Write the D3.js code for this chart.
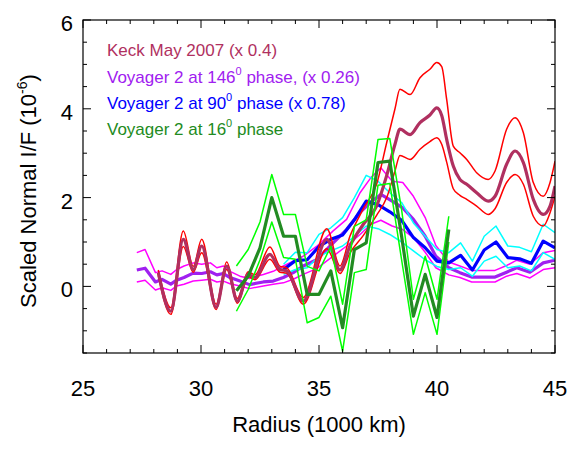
<!DOCTYPE html>
<html>
<head>
<meta charset="utf-8">
<script src="https://cdn.jsdelivr.net/npm/d3@7"></script>
<style>
  body { margin: 0; background: #fff; }
  text { font-family: "Liberation Sans", Arial, Helvetica, sans-serif; }
</style>
</head>
<body>
<script>
var w = 579;
var h = 453;
var svg;

var plotL = 83, plotR = 555, plotT = 20, plotB = 353;

// ---- data (radius in 1000 km, scaled normal I/F in 1e-6) ----
var keckR   = [28.19, 28.72, 29.25, 29.67, 30.03, 30.64, 31.09, 31.54, 32.0, 32.29, 32.92, 33.35, 33.63, 34.33, 35.33, 35.89, 36.31, 36.88, 37.44, 37.87, 38.22, 38.43, 38.86, 39.28, 39.7, 39.99, 40.2, 40.41, 40.69, 40.97, 41.26, 41.68, 42.17, 42.46, 42.95, 43.31, 43.66, 44.08, 44.5, 44.79, 45.0];
var keckMid = [0.31, -0.56, 1.06, 0.38, 0.91, -0.47, 0.46, -0.33, 0.27, 0.2, 0.72, 0.38, 0.35, -0.33, 1.06, 0.37, 0.91, 1.4, 1.81, 2.5, 3.2, 3.54, 3.42, 3.69, 3.86, 4.02, 3.85, 3.31, 2.71, 2.41, 2.3, 2.11, 1.92, 2.03, 2.75, 3.05, 2.79, 1.96, 1.62, 1.81, 2.26];
var keckHi  = [0.37, -0.48, 1.25, 0.45, 1.06, -0.4, 0.55, -0.27, 0.33, 0.26, 0.89, 0.45, 0.42, -0.25, 1.3, 0.46, 1.13, 1.75, 2.3, 3.24, 4.0, 4.44, 4.32, 4.7, 4.89, 5.04, 4.95, 4.21, 3.16, 3.01, 2.86, 2.56, 2.41, 2.6, 3.54, 3.8, 3.46, 2.34, 2.03, 2.34, 2.82];
var keckLo  = [0.25, -0.63, 0.9, 0.32, 0.76, -0.52, 0.38, -0.38, 0.22, 0.15, 0.61, 0.32, 0.3, -0.4, 0.85, 0.29, 0.75, 1.15, 1.6, 2.0, 2.6, 2.95, 2.86, 3.09, 3.26, 3.35, 3.2, 2.8, 2.2, 2.05, 1.96, 1.81, 1.62, 1.75, 2.34, 2.52, 2.3, 1.58, 1.36, 1.66, 2.03];

var v146R   = [27.28, 27.63, 28.07, 28.35, 28.72, 28.97, 29.28, 29.67, 30.03, 30.4, 30.67, 30.95, 31.23, 31.65, 32.05, 32.64, 33.06, 33.49, 33.91, 34.33, 34.9, 35.6, 36.17, 36.74, 37.2, 37.62, 38.1, 38.55, 39.0, 39.5, 39.95, 40.5, 40.97, 41.47, 42.46, 42.95, 43.38, 43.94, 44.5, 45.0];
var v146Mid = [0.37, 0.41, 0.1, 0.16, 0.05, 0.14, 0.2, 0.3, 0.29, 0.33, 0.26, 0.29, 0.2, 0.12, 0.04, 0.1, 0.12, 0.2, 0.31, 0.46, 0.6, 0.98, 1.28, 1.67, 1.9, 2.07, 1.92, 1.77, 1.51, 1.13, 0.68, 0.42, 0.31, 0.21, 0.21, 0.32, 0.42, 0.32, 0.53, 0.59];
var v146Hi  = [0.76, 0.83, 0.31, 0.35, 0.27, 0.38, 0.46, 0.53, 0.5, 0.53, 0.42, 0.46, 0.34, 0.23, 0.18, 0.27, 0.34, 0.46, 0.57, 0.68, 0.9, 1.25, 1.51, 2.11, 2.45, 2.67, 2.37, 2.34, 2.03, 1.55, 0.92, 0.55, 0.46, 0.36, 0.36, 0.47, 0.59, 0.5, 0.76, 0.81];
var v146Lo  = [0.1, 0.14, -0.08, -0.03, -0.09, 0.01, 0.05, 0.12, 0.14, 0.16, 0.1, 0.12, 0.06, 0.01, -0.05, 0.01, 0.05, 0.08, 0.16, 0.27, 0.4, 0.68, 0.91, 1.17, 1.4, 1.49, 1.36, 1.28, 1.1, 0.77, 0.42, 0.26, 0.2, 0.1, 0.1, 0.23, 0.29, 0.19, 0.38, 0.42];

var v90R    = [33.5, 34.0, 34.5, 35.0, 35.5, 36.0, 36.5, 37.0, 37.5, 38.0, 38.5, 39.0, 39.5, 40.0, 40.5, 41.0, 41.5, 42.0, 42.5, 43.0, 43.5, 44.0, 44.5, 45.0];
var v90Mid  = [0.38, 0.58, 0.6, 0.9, 1.06, 1.16, 1.5, 1.92, 1.84, 1.68, 1.49, 1.1, 0.87, 0.57, 0.53, 0.7, 0.37, 0.82, 1.0, 0.65, 0.62, 0.52, 1.02, 0.87];
var v90Hi   = [0.5, 0.77, 0.76, 1.17, 1.32, 1.55, 2.0, 2.5, 2.37, 2.11, 1.89, 1.43, 1.13, 0.83, 0.76, 0.98, 0.57, 1.13, 1.36, 0.91, 0.88, 0.78, 1.4, 1.21];
var v90Lo   = [0.27, 0.38, 0.42, 0.68, 0.8, 0.91, 1.13, 1.36, 1.3, 1.17, 1.0, 0.8, 0.6, 0.45, 0.38, 0.42, 0.23, 0.57, 0.68, 0.42, 0.46, 0.35, 0.76, 0.61];

var v16R    = [31.5, 32.0, 32.5, 33.0, 33.5, 34.0, 34.5, 35.0, 35.5, 36.0, 36.5, 37.0, 37.5, 38.0, 38.5, 39.0, 39.5, 40.0, 40.5];
var v16Mid  = [-0.1, 0.23, 0.87, 2.0, 1.13, 1.13, -0.18, -0.18, 0.35, -0.93, 0.83, 0.98, 2.79, 2.82, 1.13, -0.67, 0.27, -0.7, 1.28];
var v16Hi   = [0.46, 0.83, 1.45, 2.52, 1.62, 1.62, 0.45, 0.35, 0.9, -0.4, 1.35, 1.5, 3.31, 3.33, 1.73, -0.29, 0.68, -0.29, 1.58];
var v16Lo   = [-0.56, -0.07, 0.6, 1.45, 0.65, 0.61, -0.82, -0.7, -0.22, -1.46, 0.31, 0.38, 2.28, 2.32, 0.6, -1.08, -0.14, -1.08, 1.0];

var xTicks = [25, 30, 35, 40, 45];
var yTicks = [0, 2, 4, 6];

var x = d3.scaleLinear().domain([25, 45]).range([plotL, plotR]);
var y = d3.scaleLinear().domain([-1.5, 6]).range([plotB, plotT]);

drawContent();

function series(g, rs, vals, color, width, smooth) {
    var line = d3.line()
        .x(function (d, i) { return x(rs[i]); })
        .y(function (d) { return y(d); });
    if (smooth) line.curve(d3.curveMonotoneX);
    g.append("path")
        .attr("d", line(vals))
        .attr("fill", "none")
        .attr("stroke", color)
        .attr("stroke-width", width)
        .attr("stroke-linejoin", "round");
}

function drawContent() {
    svg = d3.select("body")
        .append("svg")
        .attr("width", w)
        .attr("height", h);

    svg.append("clipPath").attr("id", "plot")
        .append("rect")
        .attr("x", plotL).attr("y", plotT)
        .attr("width", plotR - plotL).attr("height", plotB - plotT);

    var g = svg.append("g").attr("clip-path", "url(#plot)");

    //---- lines ----
    series(g, v146R, v146Hi, "#ff00ff", 1.5);
    series(g, v146R, v146Lo, "#ff00ff", 1.5);
    series(g, v146R, v146Mid, "#a020f0", 3.2);

    series(g, v90R, v90Hi, "#00ffff", 1.5);
    series(g, v90R, v90Lo, "#00ffff", 1.5);
    series(g, v90R, v90Mid, "#0000ff", 3.2);

    series(g, keckR, keckHi, "#ff0000", 1.5, true);
    series(g, keckR, keckLo, "#ff0000", 1.5, true);
    series(g, keckR, keckMid, "#b03060", 3.2, true);

    series(g, v16R, v16Hi, "#00ff00", 1.5);
    series(g, v16R, v16Lo, "#00ff00", 1.5);
    series(g, v16R, v16Mid, "#228b22", 3.2);

    //---- frame and ticks ----
    svg.append("rect")
        .attr("x", plotL).attr("y", plotT)
        .attr("width", plotR - plotL).attr("height", plotB - plotT)
        .attr("fill", "none")
        .attr("stroke", "#000")
        .attr("stroke-width", 1.2);

    var xAll = d3.range(25, 45.01, 1);
    xAll.forEach(function (v) {
        var len = (v % 5 === 0) ? 8 : 4;
        svg.append("line").attr("x1", x(v)).attr("x2", x(v))
            .attr("y1", plotB).attr("y2", plotB - len).attr("stroke", "#000");
        svg.append("line").attr("x1", x(v)).attr("x2", x(v))
            .attr("y1", plotT).attr("y2", plotT + len).attr("stroke", "#000");
    });
    var yAll = d3.range(-1.5, 6.01, 0.5);
    yAll.forEach(function (v) {
        var len = (Math.abs(v % 2) < 1e-9) ? 8 : 4;
        svg.append("line").attr("y1", y(v)).attr("y2", y(v))
            .attr("x1", plotL).attr("x2", plotL + len).attr("stroke", "#000");
        svg.append("line").attr("y1", y(v)).attr("y2", y(v))
            .attr("x1", plotR).attr("x2", plotR - len).attr("stroke", "#000");
    });

    xTicks.forEach(function (v) {
        svg.append("text")
            .text(v)
            .attr("x", x(v))
            .attr("y", 396)
            .attr("font-size", 22)
            .attr("text-anchor", "middle")
            .attr("fill", "#000");
    });
    yTicks.forEach(function (v) {
        svg.append("text")
            .text(v)
            .attr("x", 73)
            .attr("y", y(v) + 11)
            .attr("font-size", 22)
            .attr("text-anchor", "end")
            .attr("fill", "#000");
    });

    //---- axis titles ----
    svg.append("text")
        .text("Radius (1000 km)")
        .attr("x", (plotL + plotR) / 2)
        .attr("y", 432)
        .attr("font-size", 22)
        .attr("text-anchor", "middle")
        .attr("fill", "#000");

    var yt = svg.append("text")
        .attr("transform", "translate(36,191) rotate(-90)")
        .attr("font-size", 22)
        .attr("text-anchor", "middle")
        .attr("fill", "#000");
    yt.append("tspan").text("Scaled Normal I/F (10");
    yt.append("tspan").text("-6").attr("font-size", 14).attr("dy", -9);
    yt.append("tspan").text(")").attr("dy", 9);

    //---- legend ----
    var legend = [
        {pre: "Keck May 2007 (x 0.4)", post: null, color: "#b03060", y: 56},
        {pre: "Voyager 2 at 146", post: " phase, (x 0.26)", color: "#a020f0", y: 83},
        {pre: "Voyager 2 at 90", post: " phase (x 0.78)", color: "#0000ff", y: 109},
        {pre: "Voyager 2 at 16", post: " phase", color: "#228b22", y: 135}
    ];
    legend.forEach(function (d) {
        var t = svg.append("text")
            .attr("x", 107)
            .attr("y", d.y)
            .attr("font-size", 17)
            .attr("fill", d.color);
        t.append("tspan").text(d.pre);
        if (d.post) {
            t.append("tspan").text("0").attr("font-size", 11).attr("dy", -8);
            t.append("tspan").text(d.post).attr("dy", 8);
        }
    });
}
</script>
</body>
</html>
